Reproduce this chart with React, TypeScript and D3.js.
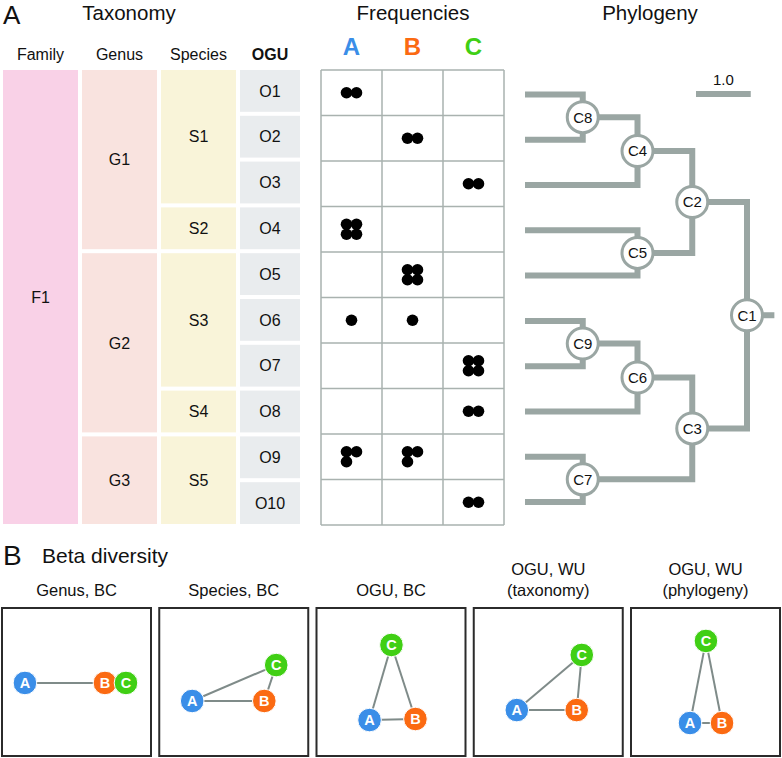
import React from "react";
import * as d3 from "d3";

// ---------- DATA ----------
const ogus = ["O1", "O2", "O3", "O4", "O5", "O6", "O7", "O8", "O9", "O10"];
const familyOfOgu = ["F1", "F1", "F1", "F1", "F1", "F1", "F1", "F1", "F1", "F1"];
const genusOfOgu = ["G1", "G1", "G1", "G1", "G2", "G2", "G2", "G2", "G3", "G3"];
const speciesOfOgu = ["S1", "S1", "S1", "S2", "S3", "S3", "S3", "S4", "S5", "S5"];

const samples = ["A", "B", "C"];
const freqA = [2, 0, 0, 4, 0, 1, 0, 0, 3, 0];
const freqB = [0, 2, 0, 0, 4, 1, 0, 0, 3, 0];
const freqC = [0, 0, 2, 0, 0, 0, 4, 2, 0, 2];

// phylogeny: id, parent, age (distance from tips, units of 1.0)
const treeIds = ["C1", "C2", "C3", "C4", "C8", "O1", "O2", "O3", "C5", "O4", "O5", "C6", "C9", "O6", "O7", "O8", "C7", "O9", "O10"];
const treeParents = ["", "C1", "C1", "C2", "C4", "C8", "C8", "C4", "C2", "C5", "C5", "C3", "C6", "C9", "C9", "C6", "C3", "C7", "C7"];
const treeAges = [4, 3, 3, 2, 1, 0, 0, 0, 2, 0, 0, 2, 1, 0, 0, 0, 1, 0, 0];
const rootStub = 0.5;
const scaleBarValue = 1.0;

// beta diversity ordinations (0-100 within each panel)
const panelTitles = [["Genus, BC"], ["Species, BC"], ["OGU, BC"], ["OGU, WU", "(taxonomy)"], ["OGU, WU", "(phylogeny)"]];
const betaAx = [15.4, 22.1, 35.6, 28.9, 39.6];
const betaAy = [50.3, 62.4, 75.2, 68.5, 77.2];
const betaBx = [69.1, 70.5, 66.4, 69.1, 61.1];
const betaBy = [50.3, 62.4, 74.5, 68.5, 77.2];
const betaCx = [83.2, 78.5, 50.3, 72.5, 50.3];
const betaCy = [50.3, 38.3, 24.8, 31.5, 22.1];

// ---------- STYLE ----------
const FONT = "'Liberation Sans', Arial, Helvetica, sans-serif";
const sampleColors = ["#3a8ee8", "#fb6a12", "#40cf14"];
const taxColors = { family: "#f9d1e7", genus: "#f9e3df", species: "#f9f4d9", ogu: "#e9ecee" };
const treeColor = "#9aa6a3";
const gridColor = "#a9b2af";

function runs(labels: string[]) {
  const out: { name: string; start: number; end: number }[] = [];
  labels.forEach((l, i) => {
    const last = out[out.length - 1];
    if (last && last.name === l) last.end = i;
    else out.push({ name: l, start: i, end: i });
  });
  return out;
}

function dotOffsets(n: number): [number, number][] {
  const s = 5;
  if (n === 1) return [[0, 0]];
  if (n === 2) return [[-s, 0], [s, 0]];
  if (n === 3) return [[-s, -s], [s, -s], [-s, s]];
  if (n === 4) return [[-s, -s], [s, -s], [-s, s], [s, s]];
  return [];
}

export default function App() {
  const W = 782, H = 758;

  // Taxonomy
  const y = d3.scaleBand<number>().domain(d3.range(ogus.length)).range([70, 528]);
  const bw = y.bandwidth();
  const gap = 4;
  const taxCols = [
    { key: "family", labels: familyOfOgu, x0: 3, x1: 78, header: "Family", bold: false },
    { key: "genus", labels: genusOfOgu, x0: 82, x1: 157, header: "Genus", bold: false },
    { key: "species", labels: speciesOfOgu, x0: 161, x1: 236, header: "Species", bold: false },
    { key: "ogu", labels: ogus, x0: 240, x1: 300, header: "OGU", bold: true },
  ];

  // Frequencies
  const freqs = [freqA, freqB, freqC];
  const fx = d3.scaleBand<string>().domain(samples).range([321, 504]);
  const gy = d3.scaleLinear().domain([0, ogus.length]).range([70, 525]);

  // Tree
  const root = d3
    .stratify<{ id: string; parent: string; age: number }>()
    .id((d) => d.id)
    .parentId((d) => d.parent || null)(treeIds.map((id, i) => ({ id, parent: treeParents[i], age: treeAges[i] })));
  const tx = d3.scaleLinear().domain([0, 4]).range([528, 747]);
  const leafY = d3.scalePoint<string>().domain(ogus).range([94.5, 502]);
  const pos = new Map<string, { x: number; y: number }>();
  root.eachAfter((n) => {
    const x = tx(n.data.age);
    let yy: number;
    if (!n.children) yy = leafY(n.data.id)!;
    else {
      const c = n.children.map((c) => pos.get(c.data.id)!.y);
      yy = (c[0] + c[c.length - 1]) / 2;
    }
    pos.set(n.data.id, { x, y: yy });
  });
  const links = root.links();
  const internal = root.descendants().filter((n) => n.children);
  const rootPos = pos.get(root.data.id)!;

  // Beta
  const panelW = 149, panelTop = 608, panelStep = 157.25;
  const bScale = d3.scaleLinear().domain([0, 100]).range([0, panelW]);

  return (
    <svg width={W} height={H} style={{ position: "absolute", left: 0, top: 0, background: "#fff" }} fontFamily={FONT}>
      <rect width={W} height={H} fill="#fff" />
      {/* Section A labels */}
      <text x={3} y={24} fontSize={26} fill="#111">A</text>
      <text x={129} y={20} fontSize={20.5} textAnchor="middle" fill="#111">Taxonomy</text>
      <text x={413} y={20} fontSize={20.5} textAnchor="middle" fill="#111">Frequencies</text>
      <text x={650} y={20} fontSize={20.5} textAnchor="middle" fill="#111">Phylogeny</text>

      {/* Taxonomy blocks */}
      {taxCols.map((col) => (
        <g key={col.key}>
          <text x={(col.x0 + col.x1) / 2} y={60} fontSize={16} fontWeight={col.bold ? "bold" : "normal"} textAnchor="middle" fill="#111">
            {col.header}
          </text>
          {runs(col.labels).map((r, i) => {
            const top = y(r.start)!;
            const bot = y(r.end)! + bw - gap;
            return (
              <g key={i}>
                <rect x={col.x0} y={top} width={col.x1 - col.x0} height={bot - top} fill={(taxColors as any)[col.key]} />
                <text x={(col.x0 + col.x1) / 2} y={(top + bot) / 2} dy="0.36em" fontSize={16} textAnchor="middle" fill="#111">
                  {r.name}
                </text>
              </g>
            );
          })}
        </g>
      ))}

      {/* Frequencies */}
      {samples.map((s, i) => (
        <text key={s} x={fx(s)! + fx.bandwidth() / 2} y={55} fontSize={24} fontWeight="bold" textAnchor="middle" fill={sampleColors[i]}>
          {s}
        </text>
      ))}
      <g stroke={gridColor} strokeWidth={1.5} fill="none">
        {d3.range(ogus.length + 1).map((i) => (
          <line key={"h" + i} x1={321} x2={504} y1={gy(i)} y2={gy(i)} />
        ))}
        {[...samples.map((s) => fx(s)!), 504].map((x, i) => (
          <line key={"v" + i} x1={x} x2={x} y1={70} y2={525} />
        ))}
      </g>
      {freqs.map((arr, si) =>
        arr.map((n, oi) => {
          const cx = fx(samples[si])! + fx.bandwidth() / 2;
          const cy = (gy(oi) + gy(oi + 1)) / 2;
          return dotOffsets(n).map(([dx, dy], k) => <circle key={`${si}-${oi}-${k}`} cx={cx + dx} cy={cy + dy} r={5.8} fill="#000" />);
        })
      )}

      {/* Phylogeny */}
      <g stroke={treeColor} strokeWidth={6} fill="none" strokeLinejoin="miter">
        {links.map((l, i) => {
          const c = pos.get(l.target.data.id)!;
          const p = pos.get(l.source.data.id)!;
          return <path key={i} d={`M${c.x},${c.y}H${p.x}V${p.y}`} strokeLinecap={l.target.children ? "butt" : "square"} />;
        })}
        <path d={`M${rootPos.x},${rootPos.y}H${tx(root.data.age + rootStub)}`} />
        <line x1={696} x2={696 + (tx(scaleBarValue) - tx(0))} y1={94} y2={94} />
      </g>
      <text x={696 + (tx(scaleBarValue) - tx(0)) / 2} y={85} fontSize={15} textAnchor="middle" fill="#111">
        {scaleBarValue.toFixed(1)}
      </text>
      {internal.map((n) => {
        const p = pos.get(n.data.id)!;
        return (
          <g key={n.data.id}>
            <circle cx={p.x} cy={p.y} r={15.5} fill="#fff" stroke={treeColor} strokeWidth={3} />
            <text x={p.x} y={p.y} dy="0.36em" fontSize={15} textAnchor="middle" fill="#111">
              {n.data.id}
            </text>
          </g>
        );
      })}

      {/* Section B */}
      <text x={3} y={565} fontSize={28} fill="#111">B</text>
      <text x={42} y={563} fontSize={21} fill="#111">Beta diversity</text>
      {panelTitles.map((t, i) => {
        const x0 = 2 + i * panelStep;
        const pts = [
          [betaAx[i], betaAy[i]],
          [betaBx[i], betaBy[i]],
          [betaCx[i], betaCy[i]],
        ].map(([a, b]) => [x0 + bScale(a), panelTop + bScale(b)]);
        const pairs = [[0, 1], [0, 2], [1, 2]];
        return (
          <g key={i}>
            {t.map((line, k) => (
              <text key={k} x={x0 + panelW / 2} y={596 - (t.length - 1 - k) * 21} fontSize={16.5} textAnchor="middle" fill="#111">
                {line}
              </text>
            ))}
            <rect x={x0} y={panelTop} width={panelW} height={148} fill="#fff" stroke="#2b2b2b" strokeWidth={2} />
            {pairs.map(([a, b], k) => (
              <line key={k} x1={pts[a][0]} y1={pts[a][1]} x2={pts[b][0]} y2={pts[b][1]} stroke="#7f8b89" strokeWidth={2} />
            ))}
            {pts.map(([px, py], k) => (
              <g key={"p" + k}>
                <circle cx={px} cy={py} r={11.8} fill={sampleColors[k]} stroke="#fff" strokeWidth={1} />
                <text x={px} y={py} dy="0.36em" fontSize={14.5} fontWeight="bold" textAnchor="middle" fill="#fff">
                  {samples[k]}
                </text>
              </g>
            ))}
          </g>
        );
      })}
    </svg>
  );
}
